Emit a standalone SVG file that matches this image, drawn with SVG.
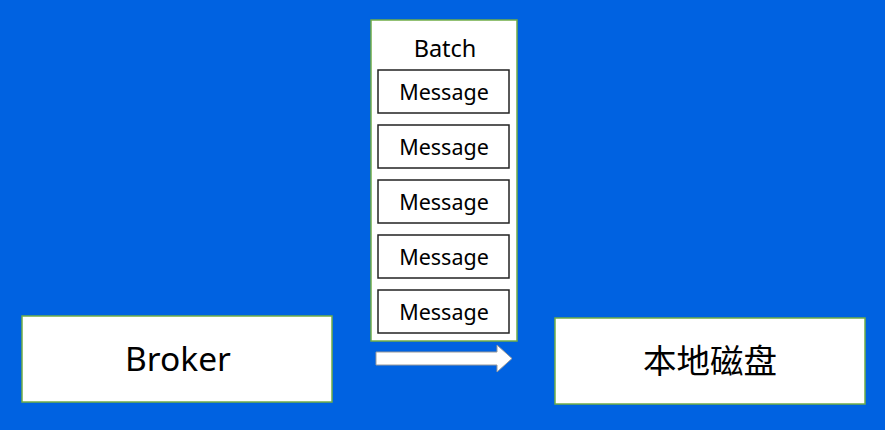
<svg xmlns="http://www.w3.org/2000/svg" width="885" height="430" viewBox="0 0 885 430">
<style>
.box{fill:#fff;stroke:#70ad47;stroke-width:1.5}
.msg{fill:#fff;stroke:#222;stroke-width:1.5}
.t{font-family:"Noto Sans","Open Sans","Noto Sans CJK SC",sans-serif;fill:#000;text-anchor:middle}
.m{font-size:21.5px}
</style>
<rect width="885" height="430" fill="#0062e1"/>
<g id="batch">
<rect class="box" x="371" y="20" width="146" height="321"/>
<text class="t" x="445" y="57" font-size="23.5">Batch</text>
</g>
<g id="msg1"><rect class="msg" x="378" y="70" width="131" height="43"/><text class="t m" x="444" y="100">Message</text></g>
<g id="msg2"><rect class="msg" x="378" y="125" width="131" height="43"/><text class="t m" x="444" y="155">Message</text></g>
<g id="msg3"><rect class="msg" x="378" y="180" width="131" height="43"/><text class="t m" x="444" y="210">Message</text></g>
<g id="msg4"><rect class="msg" x="378" y="235" width="131" height="43"/><text class="t m" x="444" y="265">Message</text></g>
<g id="msg5"><rect class="msg" x="378" y="290" width="131" height="43"/><text class="t m" x="444" y="320">Message</text></g>
<g id="broker">
<rect class="box" x="22" y="316" width="310" height="86"/>
<text class="t" x="178" y="371" font-size="33.5">Broker</text>
</g>
<g id="disk">
<rect class="box" x="555" y="318" width="310" height="86"/>
<text class="t" x="710" y="373" font-size="33.5" font-family="Noto Sans CJK SC,sans-serif">本地磁盘</text>
</g>
<g id="connectors">
<path d="M376,352 H497 V345 L512,358.5 L497,372 V365 H376 Z" fill="#fff" stroke="#999" stroke-width="1"/>
</g>
</svg>
